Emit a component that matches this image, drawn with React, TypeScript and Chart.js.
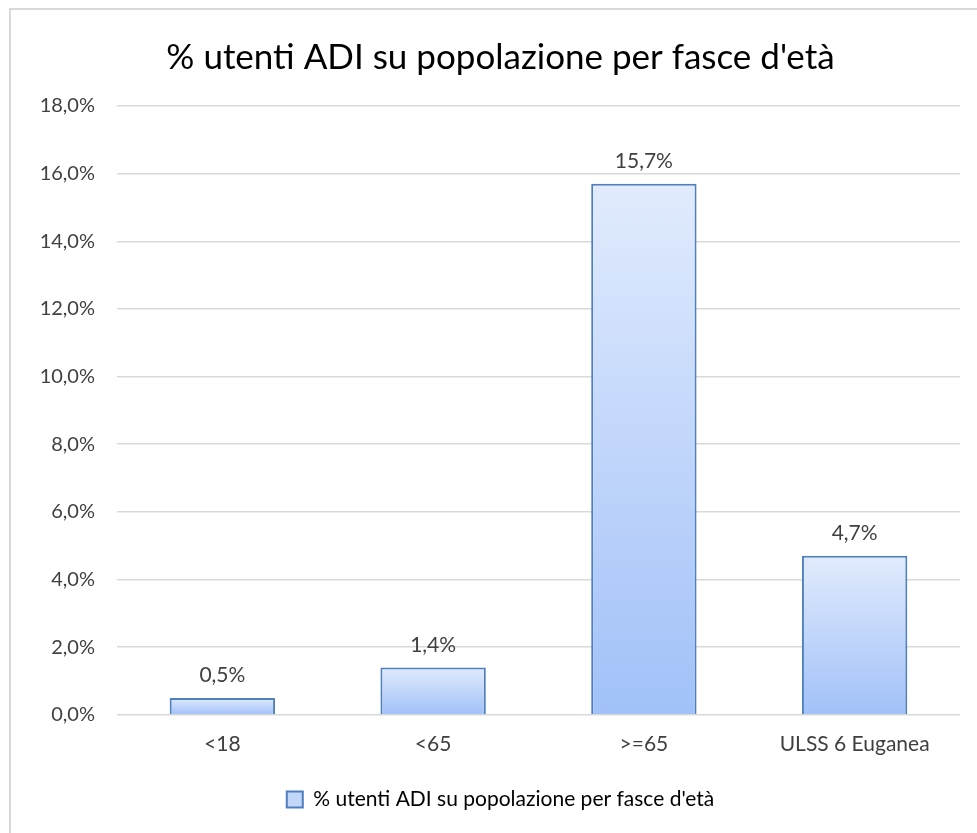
import React, { useEffect, useRef } from "react";
import { Chart, registerables } from "chart.js";

Chart.register(...registerables);

const categories = ["<18", "<65", ">=65", "ULSS 6 Euganea"];
const values = [0.5, 1.4, 15.7, 4.7];
const seriesLabel = "% utenti ADI su popolazione per fasce d'età";
const titleText = "% utenti ADI su popolazione per fasce d'età";
const yTicks = { min: 0, max: 18, step: 2 };

const FONT = "Lato, 'Open Sans', sans-serif";
const fmt = (v: number) => v.toFixed(1).replace(".", ",") + "%";

const labelPlugin = {
  id: "barLabels",
  afterDatasetsDraw(chart: any) {
    const ctx = chart.ctx;
    const meta = chart.getDatasetMeta(0);
    ctx.save();
    ctx.font = `21px ${FONT}`;
    ctx.fillStyle = "#404040";
    ctx.textAlign = "center";
    ctx.textBaseline = "bottom";
    meta.data.forEach((el: any, i: number) => {
      ctx.fillText(fmt(values[i]), el.x, el.y - 12);
    });
    ctx.restore();
  },
};

export default function App() {
  const ref = useRef<HTMLCanvasElement>(null);
  useEffect(() => {
    if (!ref.current) return;
    const chart = new Chart(ref.current, {
      type: "bar",
      data: {
        labels: categories,
        datasets: [
          {
            label: seriesLabel,
            data: values,
            backgroundColor: (c: any) => {
              const ch = c.chart;
              if (!ch.chartArea || c.type !== "data") return "#c5d9f9";
              const y = ch.scales.y;
              const top = y.getPixelForValue(c.raw);
              const bottom = y.getPixelForValue(0);
              const g = ch.ctx.createLinearGradient(0, top, 0, bottom + 0.01);
              g.addColorStop(0, "#e1ebfd");
              g.addColorStop(1, "#a1c1f8");
              return g;
            },
            borderColor: "#4f7fbf",
            borderWidth: 2,
            barPercentage: 0.5,
            categoryPercentage: 1,
          },
        ],
      },
      options: {
        animation: false,
        responsive: false,
        layout: { padding: { left: 41, right: 17, top: 37, bottom: 13 } },
        plugins: {
          title: {
            display: true,
            text: titleText,
            color: "#000000",
            font: { family: FONT, size: 35, weight: "normal" },
            padding: { top: 0, bottom: 27 },
          },
          legend: {
            position: "bottom",
            labels: {
              color: "#404040",
              font: { family: FONT, size: 21 },
              boxWidth: 16,
              boxHeight: 16,
              padding: 23,
              generateLabels: () => [
                {
                  text: seriesLabel,
                  fillStyle: "#c3d7f8",
                  strokeStyle: "#4f7fbf",
                  lineWidth: 2,
                  hidden: false,
                  datasetIndex: 0,
                },
              ],
            },
          },
          tooltip: { enabled: false },
        },
        scales: {
          x: {
            grid: { display: false },
            border: { display: false },
            ticks: { color: "#404040", font: { family: FONT, size: 21 }, padding: 9 },
          },
          y: {
            min: yTicks.min,
            max: yTicks.max,
            grid: { color: "#d9d9d9", lineWidth: 1.5, drawTicks: false },
            border: { display: false },
            afterFit: (scale: any) => {
              scale.width = 76;
            },
            ticks: {
              stepSize: yTicks.step,
              color: "#404040",
              font: { family: FONT, size: 20 },
              padding: 22,
              callback: (v: any) => fmt(Number(v)),
            },
          },
        },
      },
      plugins: [labelPlugin],
    });
    return () => chart.destroy();
  }, []);
  return (
    <div style={{ position: "fixed", left: 0, top: 0, width: 977, height: 833, overflow: "hidden", background: "#fff" }}>
      <div
        style={{
          position: "absolute",
          left: 9,
          top: 8,
          width: 990,
          height: 850,
          border: "2px solid #d9d9d9",
          boxSizing: "border-box",
        }}
      />
      <canvas ref={ref} width={977} height={833} style={{ position: "absolute", left: 0, top: 0 }} />
    </div>
  );
}
